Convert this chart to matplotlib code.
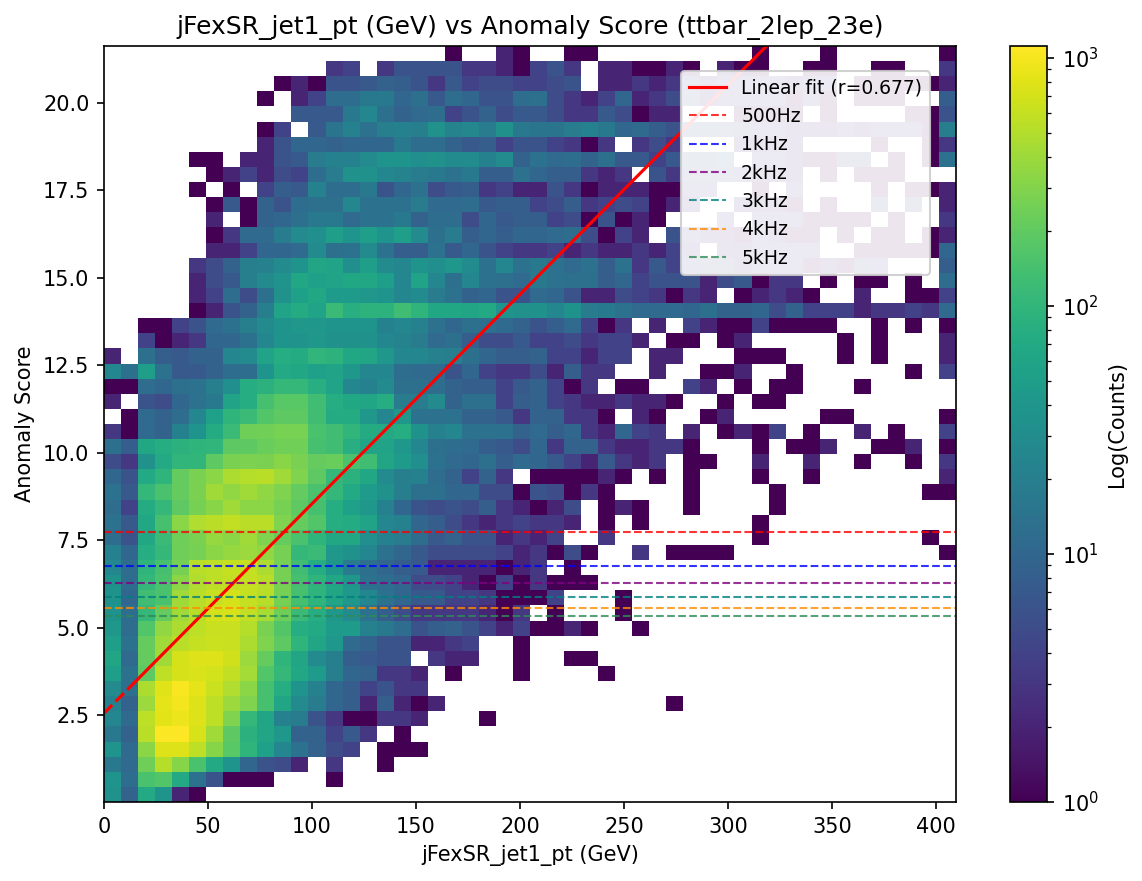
import numpy as np
import matplotlib
matplotlib.use("Agg")
import matplotlib.pyplot as plt
from matplotlib.colors import LogNorm

# histogram extent
x_range = [0, 409.6]
y_range = [0.01, 21.63]

# linear fit, r from the legend
fit_slope = 0.0599
fit_intercept = 2.55
fit_r = 0.677
fit_x_dashed = [0, 14]
fit_x_solid = [14, 330]

rate_labels = ["500Hz", "1kHz", "2kHz", "3kHz", "4kHz", "5kHz"]
rate_scores = [7.73, 6.76, 6.27, 5.87, 5.56, 5.33]
rate_colors = ["red", "blue", "purple", "teal", "darkorange", "seagreen"]

# counts per bin, top row first, trailing empty bins left out
count_rows = [
    [0]*20 + [1,0,0,2,1, 0,0,1,1,0, 0,0,0,0,0, 0,0,0,1,0, 0,0,1,0,0, 0,0,0,0,1],
    [0]*13 + [3,4,0,3,6, 6,6,6,3,3, 2,1, 4,6,3,0,2, 2,1,1,2,1, 0,2,1,1,0, 0,1,1,0,0, 1,1,0,0,3],
    [0]*10 + [1,2,1,6,6, 7,9,8,6,3, 7,4,5,5,4, 4,5,6,0,2, 2,3,2,3,5, 2,3,3,3,3, 2,3,3,0,1, 1,1,1,1,2],
    [0]*9 + [1,0,2,4,12, 12,17,17,10,13, 7,12,10,6,6, 12, 13,5,3,2,4, 10,2,3,5,6, 2,3,3,3,3, 1,3,1,0,1, 1,1,0,0,8],
    [0]*11 + [7,7,7,17, 25,13,9,11,12, 4,6,9,5,7, 7,5,3,3,7, 5,1,2,2,0, 0,0,1,1,1, 1,0,1,0,0, 0,0,1,1,6],
    [0]*9 + [1,4,0,7,15, 21,14,20,21,20, 34,23,26,18,34, 17, 15,15,18,21,17, 10,11,8,6,7, 7,6,4,3,3, 2,2,2,3,2, 3,3,3,1,20],
    [0]*9 + [2,6,10,10,9, 10,10,10,17,12, 12,9,7,8,4, 6, 6,4,3,1,3, 0,3,5,3,0, 0,0,2,2,2, 2,0,0,0,0, 1,0,0,1,3],
    [0]*5 + [1,1,0,2,2, 6,7,18,21,21, 28,38,38,32,34, 29,29,21,28,9, 14,11,12,9,13, 7,7,4,7,8, 7,10,0,3,3, 2,1,1,4,4, 0,1,0,1,14],
    [0]*6 + [1,2,4,2, 5,4,12,18,34, 34,25,23,18,17, 14,17,8,8,14, 10,8,8,3,2, 3,0,6,3,6, 6,6,3,2,2, 2,0,1,0,1, 1,1,0,0,0],
    [0]*5 + [1,0,1,0,4, 8,7,21,12,12, 17,6,10,14,5, 7,8,3,4,2, 2,6,3,1,2, 2,2,1,1,3, 3,0,0,1,0, 3,0,0,0,0, 1,0,1,1,2],
    [0]*6 + [1,7,1,9, 6,12,13,13,25, 14,14,14,18,11, 11,12,7,8,8, 4,5,8,3,4, 5,4,1,2,2, 0,0,2,2,2, 1,0,1,0,0, 4,0,4,0,2],
    [0]*6 + [2,0,1,9, 10,13,17,17,11, 14,14,17,9,12, 12,5,10,7,8, 8,4,5,1,6, 1,2,1,0,0, 0,3,0,3,3, 3,1,1,1,1, 0,1,0,0,3],
    [0]*6 + [1,3,11,11, 18,28,32,50,38, 50,38,50,28,13, 18,8,10,8,10, 10,11,12,5,1, 4,2,0,6,3, 2,2,1,3,2, 1,1,0,1,0, 1,1,0,1,2],
    [0]*6 + [2,2,4,10, 10,11,28,13,14, 28,14,8,8,14, 7,10,6,4,3, 3,4,2,3,2, 2,3,2,4,2, 0,2,2,3,3, 3,3,0,0,1, 1,1,1,1,10],
    [0]*5 + [3,5,9,20,21, 28,38,62,58,32, 50,28,25,38,32, 41,29,14,25,14, 17,14,11,14,8, 14,3,7,4,5, 4,4,2,3,3, 3,1,2,1,4, 3,0,0,0,8],
    [0]*5 + [2,5,7,20,28, 37,66,52,58,66, 66,50,25,58,25, 13,25,14,13,11, 17,14,13,13,8, 10,4,6,6,6, 2,5,7,1,3, 3,0,1,0,1, 1,0,1,0,12],
    [0]*5 + [2,4,12,5,13, 34,52,66,46,46, 41,38,25,29,18, 14,9,10,6,6, 11,10,6,2,2, 5,4,3,1,3, 2,0,1,2,3, 2,1,0,0,2, 0,0,1,1,4],
    [0]*5 + [1,2,6,9,20, 58,74,58,118,82, 92,92,130,96,66, 66,62,70,38,34, 34,25,36,18,17, 14,11,11,11,10, 13,9,9,10,5, 9,4,4,4,2, 3,3,4,3,11],
    [0]*2 + [1,1,4, 6,11,14,20,28, 38,41,41,38,38, 38,21,25,21,14, 10,13,13,11,9, 6,8,11,4,1, 3,0,2,0,4, 2,1,1,4,1, 1,1,1,0,0, 1,0,1,0,1],
    [0]*2 + [4,1,2, 3,10,10,14,25, 38,37,41,34,34, 34,25,23,18,11, 13,8,5,5,7, 4,4,5,3,4, 4,2,0,1,1, 0,1,2,0,0, 0,0,0,1,0, 1,0,0,0,2],
    [2,0,13,8,7, 9,9,25,28,58, 78,74,100,92,66, 62,41,25,25,21, 20,13,10,8,8, 9,4,4,2,4, 4,0,2,2,0, 0,0,1,1,1, 0,0,0,1,0, 1,0,0,0,2],
    [25,13,50,14,7, 7,9,12,12,38, 70,66,52,58,41, 25,25,12,11,11, 6,10,4,3,3, 5,2,8,3,3, 0,0,2,0,0, 1,1,2,0,0, 1,0,0,0,0, 0,0,1,0,4],
    [1,1,12,10,13, 14,20,32,78,88, 108,108,82,58,25, 21,28,13,13,12, 9,8,8,4,7, 9,4,1,3,0, 1,1,0,0,4, 2,0,1,0,1, 1,0,0,0,1],
    [2,0,6,5,10, 14,17,58,78,140, 180,180,130,78,66, 62,78,18,18,28, 9,13,13,4,8, 9,4,3,2,2, 3,2,2,1,0, 0,1,0,1,1],
    [0,1,11,9,12, 25,52,96,118,165, 194,194,130,74,74, 41,25,41,14,14, 14,9,9,7,3, 9,9,3,3,1, 0,2,1,0,0, 1,2,0,0,0, 0,0,1,1,0, 0,0,0,0,1],
    [3,1,11,9,21, 38,74,118,235,245, 265,265,150,130,100, 74,70,78,36,21, 25,14,14,14,9, 11,8,10,3,2, 10,4,3,0,2, 0,1,2,1,4, 0,1,0,0,2, 0,1,0,0,4],
    [13,8,66,78,88, 96,100,194,194,225, 245,245,140,130,82, 58,58,41,25,13, 12,11,8,7,5, 10,3,9,9,3, 2,2,3,3,1, 0,0,0,1,0, 1,1,2,0,0, 1,1,2,0,1],
    [5,3,34,70,100, 100,194,270,278,270, 320,270,215,225,150, 130,62,46,32,14, 11,10,13,8,11, 10,7,4,2,7, 3,2,3,0,1, 1,0,0,2,0, 0,2,0,0,1, 0,0,1,0,3],
    [10,6,70,96,215, 270,330,470,510,535, 410,285,194,108,88, 66,28,20,21,12, 9,4,9,3,0, 1,1,1,1,2, 1,0,1,0,1, 0,0,0,1,0, 0,1,0,0,0, 0,0,0,0,2],
    [14,7,108,150,215, 270,410,350,410,350, 285,205,150,108,70, 46,34,20,13,13, 10,10,5,5,1, 6,5,1,3,1, 0,0,0,0,1, 0,0,0,0,1, 0,0,0,0,0, 0,0,0,1,1],
    [12,4,74,108,194, 255,320,410,330,330, 255,194,140,78,52, 41,21,10,6,5, 6,5,8,3,2, 1,2,5,0,1, 2,1,0,0,1, 0,0,0,0,1],
    [14,7,66,140,330, 490,535,595,545,535, 285,215,165,78,74, 58,25,21,10,8, 5,3,2,3,4, 3,3,2,0,1, 0,1,0,0,0, 0,0,0,1],
    [12,6,66,118,235, 270,365,330,410,285, 215,150,96,66,66, 32,21,18,12,7, 9,6,6,2,3, 2,4,0,0,3, 0,0,0,0,0, 0,0,0,1,0, 0,0,0,0,0, 0,0,0,1],
    [21,10,78,108,235, 255,330,365,385,350, 255,108,118,41,34, 25,14,10,7,5, 5,5,5,4,2, 3,1,5,1,0, 0,3,0,1,1, 1,1,0,0,0, 0,0,0,0,0, 0,0,0,0,1],
    [25,12,96,140,255, 525,560,610,610,470, 255,130,78,41,18, 13,10,8,7,2, 2,2,2,1,2, 3,0,1],
    [36,12,108,150,330, 490,560,580,610,525, 255,140,96,66,41, 14,12,10,5,5, 4,2,1,4,1, 3,1,1,1],
    [36,10,130,150,410, 525,625,705,610,525, 255,140,96,62,41, 25,14,10,7,7, 4,4,3,1,1, 1,4,0,0,0, 1],
    [36,12,108,215,410, 545,705,730,595,450, 235,118,78,41,28, 14,8,5,3,3, 3,3,2,1,3, 0,1,0,0,0, 1],
    [41,12,165,350,470, 560,625,625,510,270, 165,78,70,46,46, 21,17,12,6,8, 9,6,4,2,4, 1,1,2,1,0, 0,1],
    [50,14,215,410,545, 610,640,625,470,285, 194,96,62,41,11, 9,6,6,2,2, 3,4,0,0,1],
    [62,11,215,410,705, 770,780,680,385,215, 96,62,28,20,8, 7,6,6,0,3, 2,2,0,0,1, 0,0,1,1],
    [50,14,194,560,705, 750,695,595,430,165, 108,66,46,20,10, 9,3,3,2,0, 1,0,0,0,1, 0,0,0,0,1],
    [28,13,470,800,1050, 830,640,490,330,140, 78,38,21,10,8, 4,6,3,3],
    [21,9,385,830,1000, 780,560,385,285,140, 62,28,18,10,8, 2,8,2,1,2, 0,0,0,0,0, 0,0,0,0,0, 0,0,0,1],
    [25,11,560,820,900, 780,560,285,108,62, 21,18,6,3,1, 1,3,3,2,0, 0,0,1],
    [17,9,545,1080,1118, 740,410,194,88,62, 41,9,9,4,7, 3,0,1],
    [38,11,330,770,780, 560,310,180,96,52, 25,14,9,5,4, 0,1,1,1],
    [17,11,235,510,310, 150,70,38,10,6, 5,2,0,3,0, 0,1],
    [38,12,150,165,70, 14,6,1,1,1, 0,0,0,1],
    [34,9,70,38,2, 1],
]

counts = np.zeros((50, 50))
for i, row in enumerate(count_rows):
    assert len(row) <= 50, (i, len(row))
    counts[49 - i, :len(row)] = row

x_edges = np.linspace(x_range[0], x_range[1], 51)
y_edges = np.linspace(y_range[0], y_range[1], 51)

fig = plt.figure(figsize=(1142 / 150, 881 / 150), dpi=150)
ax = fig.add_axes([104 / 1142, 1 - 802 / 881, 852 / 1142, 756 / 881])
cax = fig.add_axes([1010 / 1142, 1 - 802 / 881, 37 / 1142, 756 / 881])

mesh = ax.pcolormesh(x_edges, y_edges, np.ma.masked_equal(counts, 0),
                     cmap="viridis", norm=LogNorm(vmin=1, vmax=counts.max()))

fit_solid = np.array(fit_x_solid)
fit_dashed = np.array(fit_x_dashed)
ax.plot(fit_solid, fit_slope * fit_solid + fit_intercept, color="red", lw=1.5,
        label=f"Linear fit (r={fit_r})")
ax.plot(fit_dashed, fit_slope * fit_dashed + fit_intercept, color="red", lw=1.5, ls="--")

for label, score, color in zip(rate_labels, rate_scores, rate_colors):
    ax.axhline(score, color=color, ls="--", lw=1, alpha=0.8, label=label)

ax.set_xlim(x_range)
ax.set_ylim(y_range)
ax.set_xlabel("jFexSR_jet1_pt (GeV)")
ax.set_ylabel("Anomaly Score")
ax.set_title("jFexSR_jet1_pt (GeV) vs Anomaly Score (ttbar_2lep_23e)")
ax.legend(loc="upper right", bbox_to_anchor=(0.969, 0.967), borderaxespad=0, fontsize=9, framealpha=0.9)

cbar = fig.colorbar(mesh, cax=cax)
cbar.set_label("Log(Counts)")

fig.savefig("out.png", dpi=150)
